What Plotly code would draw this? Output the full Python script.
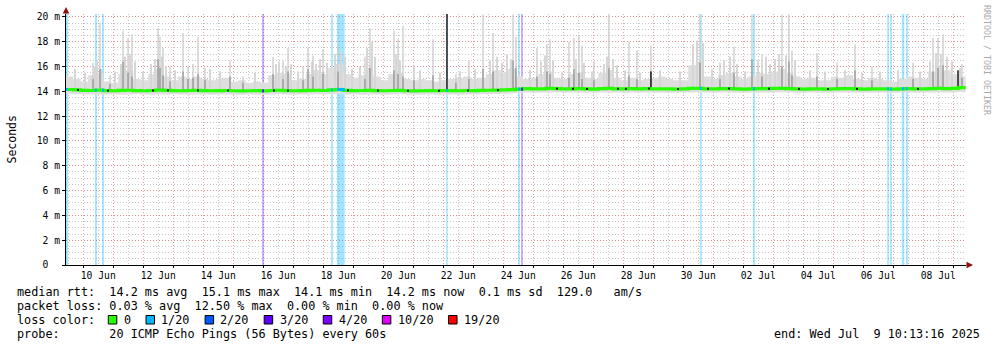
import numpy as np
import pandas as pd
import plotly.graph_objects as go

# ---------------- data ----------------
X_START = "2025-06-09 10:13:16"
X_END = "2025-07-09 10:13:16"
Y_TOP = 20.24

BIN_START = "2025-06-09 10:00"
BIN_HOURS = 6

median_ms = [
    14.15, 14.12, 14.08, 14.07, 14.10, 14.06, 14.05, 14.08, 14.09, 14.06,
    14.05, 14.07, 14.10, 14.08, 14.06, 14.05, 14.07, 14.08, 14.06, 14.05,
    14.06, 14.07, 14.05, 14.04, 14.05, 14.06, 14.04, 14.07, 14.09, 14.06,
    14.05, 14.06, 14.08, 14.09, 14.07, 14.12, 14.15, 14.08, 14.06, 14.07,
    14.08, 14.06, 14.05, 14.07, 14.08, 14.05, 14.04, 14.05, 14.06, 14.05,
    14.07, 14.06, 14.05, 14.07, 14.06, 14.08, 14.09, 14.10, 14.12, 14.14,
    14.18, 14.22, 14.20, 14.21, 14.24, 14.22, 14.20, 14.21, 14.23, 14.20,
    14.19, 14.22, 14.24, 14.21, 14.20, 14.22, 14.21, 14.23, 14.20, 14.21,
    14.20, 14.19, 14.21, 14.24, 14.25, 14.21, 14.20, 14.22, 14.23, 14.20,
    14.19, 14.21, 14.23, 14.22, 14.24, 14.25, 14.22, 14.20, 14.19, 14.21,
    14.20, 14.19, 14.21, 14.22, 14.23, 14.20, 14.19, 14.20, 14.21, 14.20,
    14.19, 14.21, 14.22, 14.20, 14.21, 14.23, 14.24, 14.22, 14.25, 14.30,
]

smoke_low_ms = [
    13.80, 13.76, 13.74, 13.75, 13.72, 13.74, 13.75, 13.73, 13.74, 13.76,
    13.75, 13.73, 13.74, 13.75, 13.76, 13.74, 13.73, 13.75, 13.74, 13.73,
    13.74, 13.75, 13.73, 13.72, 13.74, 13.73, 13.72, 13.75, 13.76, 13.74,
    13.73, 13.74, 13.75, 13.76, 13.74, 13.78, 13.80, 13.75, 13.74, 13.73,
    13.75, 13.74, 13.73, 13.75, 13.76, 13.74, 13.72, 13.73, 13.74, 13.73,
    13.75, 13.74, 13.73, 13.74, 13.75, 13.76, 13.77, 13.78, 13.80, 13.84,
    13.88, 13.90, 13.89, 13.91, 13.92, 13.90, 13.89, 13.90, 13.91, 13.89,
    13.88, 13.90, 13.92, 13.90, 13.89, 13.91, 13.90, 13.92, 13.89, 13.90,
    13.89, 13.88, 13.90, 13.92, 13.93, 13.90, 13.89, 13.91, 13.92, 13.89,
    13.88, 13.90, 13.91, 13.90, 13.92, 13.93, 13.91, 13.89, 13.88, 13.90,
    13.89, 13.88, 13.90, 13.91, 13.92, 13.89, 13.88, 13.89, 13.90, 13.89,
    13.88, 13.90, 13.91, 13.89, 13.90, 13.92, 13.93, 13.91, 13.93, 13.95,
]

smoke_top_ms = [
    15.2, 15.0, 14.8, 15.3, 15.5, 14.8, 14.7, 15.4, 15.7, 15.0,
    14.9, 15.4, 15.8, 15.2, 14.9, 15.2, 15.0, 15.2, 15.0, 14.9,
    15.0, 15.1, 14.8, 14.9, 14.7, 14.8, 14.7, 15.3, 15.5, 15.4,
    14.9, 15.0, 15.4, 15.7, 15.4, 15.9, 16.2, 15.4, 15.1, 15.3,
    15.8, 15.2, 14.9, 15.4, 15.5, 15.0, 14.9, 15.0, 14.9, 14.8,
    14.9, 15.0, 15.1, 15.2, 15.0, 15.1, 15.4, 15.7, 15.5, 15.8,
    15.2, 15.0, 15.1, 15.4, 15.6, 15.1, 15.0, 15.4, 15.5, 15.1,
    15.0, 15.5, 15.7, 15.1, 14.9, 15.1, 14.9, 15.0, 15.1, 15.2,
    15.0, 14.9, 14.9, 16.1, 16.4, 15.2, 15.0, 15.3, 15.5, 15.2,
    15.0, 15.2, 15.5, 15.4, 15.6, 15.8, 15.5, 15.2, 15.0, 15.1,
    14.9, 14.9, 15.2, 15.1, 15.3, 15.0, 14.9, 15.1, 15.0, 14.9,
    14.8, 15.0, 15.2, 15.1, 15.0, 15.6, 15.9, 15.7, 15.4, 15.2,
]

# tall, thin spikes (top of the smoke) and their darker core
spike_times = [
    "2025-06-10 07:50", "2025-06-10 13:25", "2025-06-10 21:25", "2025-06-11 07:50",
    "2025-06-11 11:50", "2025-06-11 15:00", "2025-06-12 11:50", "2025-06-12 13:25",
    "2025-06-12 15:50", "2025-06-12 21:25", "2025-06-13 07:50", "2025-06-13 11:50",
    "2025-06-13 15:50", "2025-06-13 19:50", "2025-06-14 01:25", "2025-06-14 21:25",
    "2025-06-15 07:50", "2025-06-16 07:50", "2025-06-16 15:50", "2025-06-16 19:50",
    "2025-06-17 07:50", "2025-06-17 11:50", "2025-06-17 15:50", "2025-06-17 23:50",
    "2025-06-18 11:50", "2025-06-19 09:25", "2025-06-19 13:25", "2025-06-20 08:35",
    "2025-06-20 11:50", "2025-06-20 15:50", "2025-06-21 00:35", "2025-06-21 15:50",
    "2025-06-22 10:10", "2025-06-22 20:35", "2025-06-23 07:50", "2025-06-23 15:50",
    "2025-06-24 07:50", "2025-06-24 10:10", "2025-06-25 03:00", "2025-06-25 11:00",
    "2025-06-25 13:25", "2025-06-26 04:35", "2025-06-26 08:35", "2025-06-26 12:35",
    "2025-06-26 15:00", "2025-06-27 00:35", "2025-06-27 12:35", "2025-06-28 04:35",
    "2025-06-28 11:00", "2025-06-28 22:10", "2025-06-30 13:25", "2025-07-01 05:25",
    "2025-07-01 16:35", "2025-07-02 07:00", "2025-07-02 15:00", "2025-07-03 07:00",
    "2025-07-03 12:35", "2025-07-03 15:00", "2025-07-04 11:00", "2025-07-05 03:00",
    "2025-07-05 17:25", "2025-07-06 07:00", "2025-07-07 15:50", "2025-07-08 07:50",
    "2025-07-08 11:50", "2025-07-08 15:50", "2025-07-09 07:00",
]
spike_top_ms = [
    16.3, 19.5, 15.3, 18.9, 18.3, 18.6, 19.1, 18.4, 17.5, 16.0, 18.7, 16.0,
    16.2, 18.4, 15.9, 16.5, 15.2, 16.8, 16.5, 17.5, 16.0, 17.5, 16.9, 17.4,
    17.7, 16.8, 19.1, 18.9, 18.2, 19.3, 16.0, 18.2, 15.4, 16.5, 20.2, 18.7,
    20.2, 18.4, 17.5, 17.8, 18.2, 18.0, 18.3, 18.5, 17.7, 16.4, 20.2, 18.0,
    17.3, 17.7, 20.2, 16.3, 17.6, 20.2, 17.0, 20.2, 20.2, 17.3, 17.1, 16.3,
    17.8, 16.0, 16.3, 18.3, 18.3, 18.6, 16.2,
]
spike_core_ms = [
    15.0, 15.8, 14.6, 16.4, 15.5, 15.2, 16.6, 15.9, 15.3, 14.8, 15.6, 15.0,
    15.1, 15.4, 14.9, 15.2, 14.7, 15.4, 15.0, 15.6, 14.9, 15.8, 15.2, 15.5,
    15.6, 15.0, 15.9, 15.7, 15.4, 15.2, 14.9, 15.3, 14.7, 15.0, 15.8, 15.6,
    16.5, 15.9, 15.2, 15.6, 15.4, 15.1, 15.8, 15.5, 15.0, 14.9, 15.9, 15.3,
    15.0, 15.6, 16.3, 15.0, 15.5, 16.6, 15.2, 16.0, 16.4, 15.3, 15.2, 15.0,
    15.7, 14.9, 15.0, 15.6, 15.9, 16.1, 15.1,
]

# lower "hair" spikes that give the smoke its texture
hair_times = [
    "2025-06-09 17:25", "2025-06-10 01:25", "2025-06-10 09:25", "2025-06-10 11:00",
    "2025-06-10 14:10", "2025-06-11 01:25", "2025-06-11 06:10", "2025-06-11 09:25",
    "2025-06-11 13:25", "2025-06-11 17:25", "2025-06-11 23:50", "2025-06-12 06:10",
    "2025-06-12 09:25", "2025-06-12 15:00", "2025-06-12 18:10", "2025-06-13 01:25",
    "2025-06-14 05:25", "2025-06-14 13:25", "2025-06-15 17:25", "2025-06-16 10:10",
    "2025-06-16 12:35", "2025-06-16 18:10", "2025-06-16 22:10", "2025-06-17 03:50",
    "2025-06-17 15:00", "2025-06-17 18:10", "2025-06-17 21:25", "2025-06-18 03:00",
    "2025-06-18 09:25", "2025-06-18 14:10", "2025-06-18 17:25", "2025-06-18 23:00",
    "2025-06-19 05:25", "2025-06-19 11:00", "2025-06-19 15:00", "2025-06-19 17:25",
    "2025-06-20 10:10", "2025-06-20 13:25", "2025-06-21 05:25", "2025-06-21 21:25",
    "2025-06-22 13:25", "2025-06-23 01:25", "2025-06-23 13:25", "2025-06-23 19:00",
    "2025-06-23 23:00", "2025-06-24 03:00", "2025-06-24 06:10", "2025-06-24 21:25",
    "2025-06-25 06:10", "2025-06-25 09:25", "2025-06-25 15:50", "2025-06-25 23:00",
    "2025-06-26 10:10", "2025-06-26 16:35", "2025-06-26 23:00", "2025-06-27 08:35",
    "2025-06-27 11:00", "2025-06-27 15:50", "2025-06-27 19:00", "2025-06-28 01:25",
    "2025-06-28 13:25", "2025-06-29 05:25", "2025-06-29 21:25", "2025-06-30 07:50",
    "2025-06-30 11:00", "2025-06-30 15:50", "2025-06-30 23:00", "2025-07-01 08:35",
    "2025-07-01 13:25", "2025-07-01 19:00", "2025-07-02 01:25", "2025-07-02 11:50",
    "2025-07-02 18:10", "2025-07-02 21:25", "2025-07-03 01:25", "2025-07-03 04:35",
    "2025-07-03 10:10", "2025-07-03 17:25", "2025-07-04 05:25", "2025-07-04 17:25",
    "2025-07-05 09:25", "2025-07-05 23:00", "2025-07-06 13:25", "2025-07-07 03:50",
    "2025-07-07 21:25", "2025-07-08 05:25", "2025-07-08 10:10", "2025-07-08 14:10",
    "2025-07-08 19:00", "2025-07-08 23:00", "2025-07-09 05:25",
]
hair_top_ms = [
    15.8, 15.5, 16.0, 16.5, 15.8, 15.6, 16.2, 16.8, 17.0, 16.4,
    15.6, 16.2, 16.6, 16.8, 16.0, 15.7, 15.8, 15.6, 15.5, 16.2,
    16.4, 16.0, 16.2, 15.6, 16.4, 16.2, 16.6, 16.3, 17.0, 17.2,
    16.8, 15.8, 16.0, 17.5, 18.0, 16.8, 17.0, 16.5, 15.7, 15.5,
    15.6, 15.8, 16.5, 16.8, 16.3, 17.0, 16.6, 15.7, 16.4, 16.9,
    16.5, 15.6, 16.6, 16.3, 15.6, 16.2, 16.8, 16.6, 16.1, 15.7,
    15.5, 15.7, 15.6, 17.8, 18.1, 17.9, 15.8, 16.5, 16.8, 16.2,
    15.6, 16.5, 16.8, 16.2, 16.6, 17.0, 16.9, 16.5, 15.7, 15.6,
    15.7, 15.5, 15.6, 15.7, 15.6, 16.4, 17.1, 17.0, 16.8, 16.4,
    15.9,
]

dark_times = ["2025-06-22 03:00", "2025-06-28 22:10", "2025-07-09 03:50"]
dark_low_ms = [14.10, 14.15, 14.15]
dark_top_ms = [20.30, 15.60, 15.70]

mark_times = [
    "2025-06-09 19:50", "2025-06-10 19:50", "2025-06-12 07:50", "2025-06-12 19:50",
    "2025-06-13 19:50", "2025-06-14 19:50", "2025-06-16 08:35", "2025-06-16 19:50",
    "2025-06-18 19:50", "2025-06-19 19:50", "2025-06-20 19:50", "2025-06-21 20:35",
    "2025-06-22 19:50", "2025-06-23 19:50", "2025-06-25 19:00", "2025-06-26 07:50",
    "2025-06-26 19:00", "2025-06-27 19:50", "2025-06-28 02:10", "2025-06-28 20:35",
    "2025-06-29 19:50", "2025-06-30 19:50", "2025-07-01 12:35", "2025-07-02 20:35",
    "2025-07-03 20:35", "2025-07-04 19:50", "2025-07-05 19:00", "2025-07-07 19:50",
]

loss_times = [
    "2025-06-09 11:00", "2025-06-10 10:10", "2025-06-10 15:50", "2025-06-15 23:50",
    "2025-06-18 07:00", "2025-06-18 14:05", "2025-06-22 03:00", "2025-06-24 12:35",
    "2025-06-24 15:00", "2025-06-30 14:10", "2025-07-02 08:35", "2025-07-06 19:50",
    "2025-07-06 22:10", "2025-07-07 07:50", "2025-07-07 11:00",
]
loss_minutes = [90, 90, 90, 80, 80, 370, 70, 80, 80, 80, 90, 80, 80, 120, 80]
loss_level = ["1/20", "1/20", "1/20", "3/20", "1/20", "1/20", "1/20", "1/20",
              "3/20", "1/20", "1/20", "1/20", "1/20", "1/20", "1/20"]

loss_keys = ["0", "1/20", "2/20", "3/20", "4/20", "10/20", "19/20"]
loss_rgb = [(38, 255, 0), (0, 184, 255), (0, 89, 255), (94, 0, 255),
            (126, 0, 255), (221, 0, 255), (255, 0, 0)]

xtick_dates = ["2025-06-10", "2025-06-12", "2025-06-14", "2025-06-16", "2025-06-18",
               "2025-06-20", "2025-06-22", "2025-06-24", "2025-06-26", "2025-06-28",
               "2025-06-30", "2025-07-02", "2025-07-04", "2025-07-06", "2025-07-08"]
xtick_text = ["10 Jun", "12 Jun", "14 Jun", "16 Jun", "18 Jun", "20 Jun", "22 Jun",
              "24 Jun", "26 Jun", "28 Jun", "30 Jun", "02 Jul", "04 Jul", "06 Jul", "08 Jul"]
ytick_vals = [0, 2, 4, 6, 8, 10, 12, 14, 16, 18, 20]
ytick_text = ["0\u00a0\u00a0", "2 m", "4 m", "6 m", "8 m", "10 m", "12 m", "14 m",
              "16 m", "18 m", "20 m"]

stat_lines = [
    "median rtt:  14.2 ms avg  15.1 ms max  14.1 ms min  14.2 ms now  0.1 ms sd  129.0   am/s",
    "packet loss: 0.03 % avg  12.50 % max  0.00 % min  0.00 % now",
]
probe_line = "probe:       20 ICMP Echo Pings (56 Bytes) every 60s"
end_line = "end: Wed Jul  9 10:13:16 2025"

# ---------------- derived ----------------
bin_starts = pd.date_range(BIN_START, periods=len(median_ms), freq=f"{BIN_HOURS}h")
step_x = list(bin_starts) + [bin_starts[-1] + pd.Timedelta(hours=BIN_HOURS)]


def stepped(vals):
    return list(vals) + [vals[-1]]


def median_at(t):
    t = pd.Timestamp(t)
    i = int((t - bin_starts[0]) / pd.Timedelta(hours=BIN_HOURS))
    return median_ms[min(max(i, 0), len(median_ms) - 1)]


MIN_MS = 60 * 1000
color_of = dict(zip(loss_keys, loss_rgb))


def rgba(rgb, a):
    return f"rgba({rgb[0]},{rgb[1]},{rgb[2]},{a})"


def vsegments(times, tops, bases, width_px, color):
    xs, ys = [], []
    for t, top, b in zip(times, tops, bases):
        ts = pd.Timestamp(t)
        xs += [ts, ts, None]
        ys += [b, top, None]
    return go.Scatter(x=xs, y=ys, mode="lines", line=dict(color=color, width=width_px),
                      hoverinfo="skip", cliponaxis=True)


fig = go.Figure()

# loss background bars (full height) - bar layer is drawn below all scatter layers
fig.add_trace(go.Bar(
    x=pd.to_datetime(loss_times), y=[Y_TOP] * len(loss_times), base=0,
    width=[m * MIN_MS for m in loss_minutes],
    marker=dict(color=[rgba(color_of[k], 0.37) for k in loss_level], line=dict(width=0)),
    hoverinfo="skip"))

# smoke body
fig.add_trace(go.Scatter(x=step_x, y=stepped(smoke_low_ms), mode="lines",
                         line=dict(width=0, shape="hv"), hoverinfo="skip"))
fig.add_trace(go.Scatter(x=step_x, y=stepped(smoke_top_ms), mode="lines",
                         line=dict(width=0, shape="hv"), fill="tonexty",
                         fillcolor="#dedede", hoverinfo="skip"))

# hairs and spikes
fig.add_trace(vsegments(hair_times, hair_top_ms, [median_at(t) for t in hair_times],
                        2, "#d6d6d6"))
spike_base = [median_at(t) for t in spike_times]
fig.add_trace(vsegments(spike_times, spike_top_ms, spike_base, 1.3, "#cbcbcb"))
fig.add_trace(vsegments(spike_times, spike_core_ms, spike_base, 1.1, "#8a8a8a"))
fig.add_trace(vsegments(dark_times, dark_top_ms, dark_low_ms, 1.6, "#2a2a2a"))

# median line
fig.add_trace(go.Scatter(x=step_x, y=stepped(median_ms), mode="lines",
                         line=dict(color=rgba(loss_rgb[0], 1), width=3.2, shape="hv"),
                         hoverinfo="skip"))

# median coloured by loss
lx, ly, lc = [], [], []
for t, m, k in zip(loss_times, loss_minutes, loss_level):
    ts = pd.Timestamp(t)
    half = pd.Timedelta(minutes=m / 2)
    fig.add_trace(go.Scatter(x=[ts - half, ts + half], y=[median_at(t)] * 2, mode="lines",
                             line=dict(color=rgba(color_of[k], 1), width=3.2),
                             hoverinfo="skip"))

# dark ticks on the median
fig.add_trace(go.Scatter(
    x=pd.to_datetime(mark_times), y=[median_at(t) for t in mark_times], mode="markers",
    marker=dict(symbol="square", size=2, color="#111111", line=dict(width=0)),
    hoverinfo="skip"))

# invisible trace carrying the label axis
fig.add_trace(go.Scatter(x=[X_START], y=[0], xaxis="x2", mode="markers",
                         marker=dict(opacity=0), hoverinfo="skip"))

MAJOR = "rgba(220,110,110,0.65)"
MINOR = "rgba(170,170,170,0.65)"
DASH = "1px,2px"
AX_FONT = dict(family="DejaVu Sans Mono", size=9.7, color="black")
TXT_FONT = dict(family="DejaVu Sans Mono", size=11.8, color="black")

L, R, T, B = 66, 31, 14, 82
W, H = 997, 347
PW, PH = W - L - R, H - T - B

fig.update_layout(
    width=W, height=H, margin=dict(l=L, r=R, t=T, b=B, pad=0),
    paper_bgcolor="white", plot_bgcolor="white", showlegend=False, barmode="overlay",
    font=TXT_FONT,
    xaxis=dict(type="date", range=[X_START, X_END], tick0="2025-06-09", dtick=86400000,
               showticklabels=False, ticks="outside", ticklen=2, tickcolor="black",
               showgrid=True, gridcolor=MAJOR, griddash=DASH, gridwidth=1,
               minor=dict(dtick=43200000, tick0="2025-06-09", showgrid=True,
                          gridcolor=MINOR, griddash=DASH, ticks=""),
               showline=True, linecolor="black", linewidth=1, zeroline=False,
               fixedrange=True),
    xaxis2=dict(type="date", overlaying="x", range=[X_START, X_END],
                tickmode="array",
                tickvals=[pd.Timestamp(d) + pd.Timedelta(hours=12) for d in xtick_dates],
                ticktext=xtick_text, showgrid=False, showline=False, ticks="",
                side="bottom", tickfont=AX_FONT, zeroline=False, fixedrange=True,
                ticklabelstandoff=3),
    yaxis=dict(range=[0, Y_TOP], tickmode="array", tickvals=ytick_vals,
               ticktext=ytick_text, tickfont=AX_FONT, ticks="outside", ticklen=3,
               tickcolor="black", showgrid=True, gridcolor=MAJOR, griddash=DASH,
               minor=dict(tickmode="linear", tick0=0, dtick=0.5, showgrid=True,
                          gridcolor=MINOR, griddash=DASH, ticks=""),
               showline=True, linecolor="black", linewidth=1, zeroline=False,
               fixedrange=True),
)


def px_ann(text, px, py, anchor="left", font=TXT_FONT, angle=0, yanchor="middle"):
    fig.add_annotation(text=text.replace(" ", "\u00a0"), xref="paper", yref="paper",
                       x=0, y=0, xshift=px - L, yshift=(H - B) - py,
                       xanchor=anchor, yanchor=yanchor, showarrow=False,
                       font=font, textangle=angle, borderpad=0)


CH = 7.12
px_ann(stat_lines[0], 16, 291.5)
px_ann(stat_lines[1], 16, 305.5)
px_ann("loss color:", 16, 319.5)
px_ann(probe_line, 16, 333.5)
px_ann(end_line, 981, 333.5, anchor="right")

# legend swatches for loss colours
bx = 108.3
for key, rgb in zip(loss_keys, loss_rgb):
    fig.add_shape(type="rect", xref="paper", yref="paper", xsizemode="pixel",
                  ysizemode="pixel", xanchor=0, yanchor=0,
                  x0=bx - L, x1=bx - L + 8.5, y0=(H - B) - 324, y1=(H - B) - 315.5,
                  fillcolor=rgba(rgb, 1), line=dict(color="black", width=1))
    px_ann(key, bx + 14.4, 319.5)
    bx += 14.4 + len(key) * CH + 16.2

# axis titles / watermark
px_ann("Seconds", 11, 139.5, anchor="center", angle=-90,
       font=dict(family="DejaVu Sans Mono", size=11.5, color="black"))
px_ann("RRDTOOL / TOBI OETIKER", 987, 60, anchor="center", angle=90,
       font=dict(family="DejaVu Sans Mono", size=8.3, color="#aaaaaa"))

# axis arrows
fig.add_annotation(xref="paper", yref="paper", x=1 + 7 / PW, y=0, ax=-8, ay=0,
                   text="", showarrow=True, arrowhead=2, arrowsize=1.3, arrowwidth=1,
                   arrowcolor="#8b1010")
fig.add_annotation(xref="paper", yref="paper", x=0, y=1 + 7 / PH, ax=0, ay=8,
                   text="", showarrow=True, arrowhead=2, arrowsize=1.3, arrowwidth=1,
                   arrowcolor="#8b1010")

fig.write_html("out.html")
